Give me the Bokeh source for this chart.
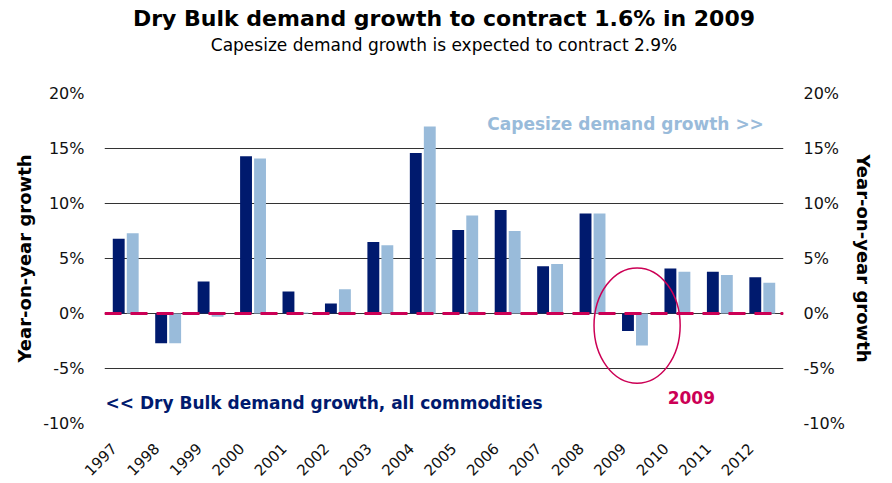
import math
from bokeh.plotting import figure
from bokeh.models import (ColumnDataSource, Range1d, LinearAxis, FixedTicker, Span,
                          Label, Title, CustomJSTickFormatter)
from bokeh.transform import dodge
from bokeh.embed import file_html
from bokeh.resources import INLINE

# ---- data ----
years = ["1997", "1998", "1999", "2000", "2001", "2002", "2003", "2004",
         "2005", "2006", "2007", "2008", "2009", "2010", "2011", "2012"]
drybulk = [6.8, -2.7, 2.9, 14.3, 2.0, 0.9, 6.5, 14.6, 7.6, 9.4, 4.3, 9.1, -1.6, 4.1, 3.8, 3.3]
capesize = [7.3, -2.7, -0.3, 14.1, 0.1, 2.2, 6.2, 17.0, 8.9, 7.5, 4.5, 9.1, -2.9, 3.8, 3.5, 2.8]
y_ticks = [-10, -5, 0, 5, 10, 15, 20]

title_text = "Dry Bulk demand growth to contract 1.6% in 2009"
subtitle_text = "Capesize demand growth is expected to contract 2.9%"
axis_title = "Year-on-year growth"
cape_note = "Capesize demand growth >>"
dry_note = "<< Dry Bulk demand growth, all commodities"
year_note = "2009"

NAVY = "#001A6E"
LIGHT = "#99BBDA"
CRIMSON = "#CC0055"
FONT = "DejaVu Sans"

idx = list(range(len(years)))
src = ColumnDataSource(dict(x=idx, dry=drybulk, cape=capesize))

p = figure(width=884, height=483, output_backend="svg", toolbar_location=None,
           x_range=Range1d(-0.5, len(years) - 0.5), y_range=Range1d(-10, 20),
           min_border_left=104, min_border_right=101, min_border_top=93,
           min_border_bottom=60, outline_line_color=None)
p.xgrid.visible = False
p.ygrid.ticker = FixedTicker(ticks=y_ticks)
p.ygrid.grid_line_color = "#333333"
p.ygrid.grid_line_width = 1

# bars
p.vbar(x=dodge("x", -0.165, range=p.x_range), top="dry", width=0.28, source=src,
       fill_color=NAVY, line_color=None)
p.vbar(x=dodge("x", 0.165, range=p.x_range), top="cape", width=0.28, source=src,
       fill_color=LIGHT, line_color=None)

# zero dashed line
p.add_layout(Span(location=0, dimension="width", line_color=CRIMSON,
                  line_width=3, line_dash="17 9"))

def style_axis(ax, size):
    ax.axis_line_color = None
    ax.major_tick_line_color = None
    ax.minor_tick_line_color = None
    ax.major_label_text_font = FONT
    ax.major_label_text_font_size = size
    ax.major_label_text_color = "#111111"

# x axis: labels shifted slightly left of the category centre, as in the original
p.xaxis.ticker = FixedTicker(ticks=[i - 0.28 for i in idx])
p.xaxis.formatter = CustomJSTickFormatter(args=dict(labels=years),
                                          code="return labels[Math.round(tick + 0.28)] || '';")
p.xaxis.major_label_orientation = math.pi / 4
p.xaxis.major_label_standoff = 16
style_axis(p.xaxis[0], "15px")

pct = CustomJSTickFormatter(code="return tick + '%';")
p.yaxis.ticker = FixedTicker(ticks=y_ticks)
p.yaxis.formatter = pct
style_axis(p.yaxis[0], "16px")

right = LinearAxis(ticker=FixedTicker(ticks=y_ticks), formatter=pct)
style_axis(right, "16px")
p.add_layout(right, "right")

for ax in (p.yaxis[0], right):
    ax.axis_label = axis_title
    ax.axis_label_text_font = FONT
    ax.axis_label_text_font_style = "bold"
    ax.axis_label_text_font_size = "18px"
    ax.axis_label_text_color = "#000000"
    ax.major_label_standoff = 14
    ax.axis_label_standoff = 5

# ellipse around 2009
p.ellipse(x=[12.05], y=[-1.1], width=[2.03], height=[10.5], fill_color=None,
          line_color=CRIMSON, line_width=1.5)

# annotations
p.add_layout(Label(x=8.52, y=17.24, text=cape_note, text_font=FONT, text_font_style="bold",
                   text_font_size="17px", text_color=LIGHT, text_baseline="middle"))
p.add_layout(Label(x=-0.476, y=-8.17, text=dry_note, text_font=FONT, text_font_style="bold",
                   text_font_size="17px", text_color=NAVY, text_baseline="middle"))
p.add_layout(Label(x=12.77, y=-7.62, text=year_note, text_font=FONT, text_font_style="bold",
                   text_font_size="17px", text_color=CRIMSON, text_baseline="middle"))

# titles (a blank spacer title keeps the gap above the plot area)
p.add_layout(Title(text="\u00a0", align="center", text_font=FONT,
                   text_font_size="17px", standoff=17), "above")
p.add_layout(Title(text=subtitle_text, align="center", text_font=FONT,
                   text_font_style="normal", text_font_size="17px",
                   text_color="#000000", standoff=0), "above")
p.add_layout(Title(text=title_text, align="center", text_font=FONT,
                   text_font_style="bold", text_font_size="22px",
                   text_color="#000000", standoff=4), "above")

open("out.html", "w").write(file_html(p, INLINE))
